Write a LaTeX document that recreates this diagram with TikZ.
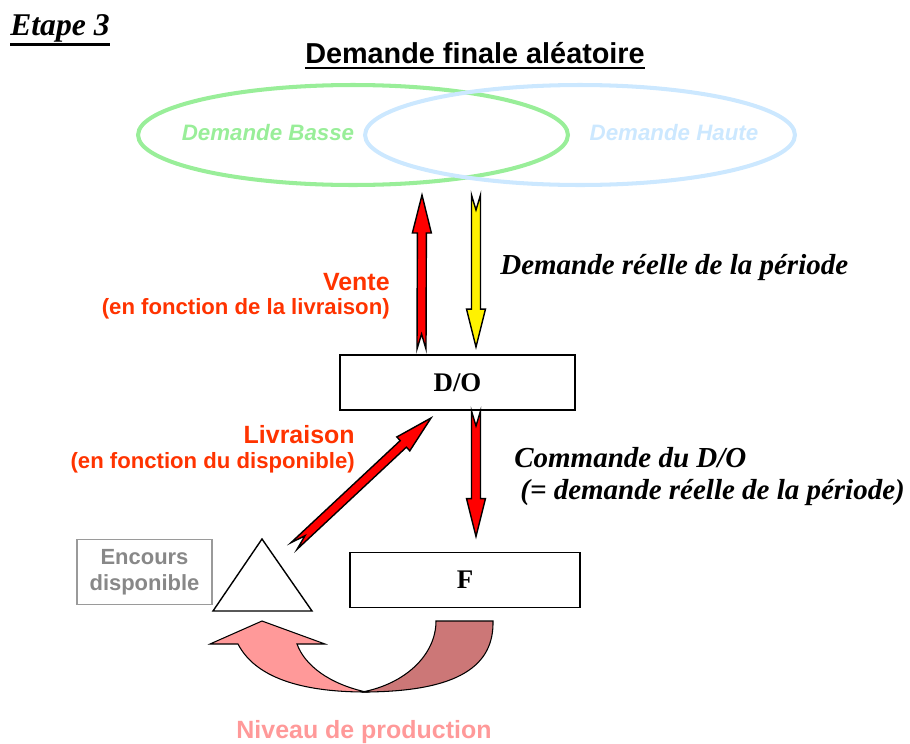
\documentclass[tikz,border=0pt]{standalone}
\usepackage{fontspec}
\setmainfont{Liberation Serif}
\setsansfont{Liberation Sans}
\usetikzlibrary{calc,positioning,shapes.geometric}

\definecolor{basse}{RGB}{153,238,153}
\definecolor{haute}{RGB}{204,232,255}
\definecolor{rougeorange}{RGB}{255,51,0}
\definecolor{encours}{RGB}{136,136,136}
\definecolor{prodclair}{RGB}{255,153,153}
\definecolor{prodfonce}{RGB}{204,119,119}

% grosse fleche a queue entaillee : couleur, queue, tete
\newcommand{\fatarrow}[3]{%
  \coordinate (hb) at ($(#3)!0.76cm!(#2)$);
  \coordinate (nt) at ($(#2)!0.3cm!(#3)$);
  \filldraw[fill=#1, draw=black, line width=0.8pt, line join=miter]
    ($(#2)!0.09cm!90:(#3)$) -- ($(hb)!0.09cm!90:(#3)$) -- ($(hb)!0.19cm!90:(#3)$)
    -- (#3) -- ($(hb)!0.19cm!-90:(#3)$) -- ($(hb)!0.09cm!-90:(#3)$)
    -- ($(#2)!0.09cm!-90:(#3)$) -- (nt) -- cycle;
}

\begin{document}
\begin{tikzpicture}[x=0.02cm, y=-0.02cm,
    etape/.style={inner sep=0, font=\fontsize{18}{22}\selectfont\bfseries\itshape},
    titre/.style={inner sep=0, font=\sffamily\bfseries\fontsize{16.4}{20}\selectfont},
    souligne/.style={line width=1.6pt},
    demande/.style={inner sep=0, font=\sffamily\bfseries\itshape\fontsize{12.7}{15}\selectfont},
    serifit/.style={inner sep=0, font=\fontsize{16.5}{20}\selectfont\bfseries\itshape},
    etiq/.style={inner sep=0, text=rougeorange, font=\sffamily\bfseries\fontsize{14.2}{17}\selectfont},
    sousetiq/.style={inner sep=0, text=rougeorange, font=\sffamily\bfseries\fontsize{12.6}{15}\selectfont},
    boite/.style={draw, line width=1.1pt, font=\bfseries\fontsize{15.3}{18}\selectfont},
    ovale/.style={ellipse, line width=2.3pt, minimum width=8.6cm, minimum height=2cm}]
  \useasboundingbox (0,0) rectangle (910,744);

  \node[etape, anchor=west] (etape) at (10,28) {Etape 3};
  \draw[souligne] ($(etape.base west)+(0,9.5)$) -- ($(etape.base east)+(0,9.5)$);
  \node[titre] (titre) at (475,53) {Demande finale aléatoire};
  \draw[souligne, line width=1.4pt] ($(titre.base west)+(0,4.5)$) -- ($(titre.base east)+(0,4.5)$);

  % demande aleatoire
  \node[ovale, draw=basse] (basse) at (353,135) {};
  \node[ovale, draw=haute] (haute) at (580,135) {};
  \node[demande, text=basse] (txtbasse) at (268,133) {Demande Basse};
  \node[demande, text=haute] (txthaute) at (674,133) {Demande Haute};

  % acteurs
  \node[boite, minimum width=4.7cm, minimum height=1.1cm] (do) at (457.5,382.5) {D/O};
  \node[boite, minimum width=4.6cm, minimum height=1.1cm] (f) at (465,580) {F};
  \node[draw=encours!85, line width=0.6pt, minimum width=2.7cm, minimum height=1.3cm,
        align=center, text=encours, inner sep=0,
        font=\sffamily\bfseries\fontsize{12.5}{15}\selectfont] (encours) at (144.5,572) {Encours\\disponible};
  \coordinate (sommet) at (262,539);
  \draw[line width=0.8pt, fill=white] (sommet) -- (312,611) -- (213,611) -- cycle;

  % flux
  \coordinate (venteQueue) at ($(do.north)+(-36,-5)$);
  \coordinate (venteTete) at (422,195);
  \fatarrow{red}{venteQueue}{venteTete}
  \coordinate (demQueue) at (476,195);
  \coordinate (demTete) at ($(do.north)+(18.5,-7)$);
  \fatarrow{yellow}{demQueue}{demTete}
  \coordinate (cmdQueue) at ($(do.south)+(18.5,0)$);
  \coordinate (cmdTete) at ($(f.north)+(11,-15)$);
  \fatarrow{red}{cmdQueue}{cmdTete}
  \coordinate (livQueue) at (294,546);
  \coordinate (livTete) at ($(do.south west)+(92,7)$);
  \fatarrow{red}{livQueue}{livTete}

  \node[etiq, anchor=east] (vente) at (390,282) {Vente};
  \node[sousetiq, anchor=east] (ventesous) at (390,309) {(en fonction de la livraison)};
  \node[serifit, anchor=west] (demreelle) at (500,268) {Demande réelle de la période};
  \node[etiq, anchor=east] (livraison) at (355,435) {Livraison};
  \node[sousetiq, anchor=east] (livsous) at (355,463) {(en fonction du disponible)};
  \node[serifit, anchor=west] (commande) at (514,458) {Commande du D/O};
  \node[serifit, anchor=west] (cmdsous) at (520,493) {(= demande réelle de la période)};

  % niveau de production
  \filldraw[fill=prodfonce, line width=0.6pt] (436,621) -- (493,621)
    .. controls (494,665) and (460,692) .. (362,692)
    .. controls (405,684) and (436,655) .. (436,621) -- cycle;
  \filldraw[fill=prodclair, line width=0.6pt] (238,644)
    .. controls (255,677) and (300,692) .. (366,692)
    .. controls (330,684) and (305,666) .. (297,644)
    -- (325,644) -- (262,621) -- (210,644) -- cycle;
  \node[etiq, text=prodclair] (production) at (364,732) {Niveau de production};
\end{tikzpicture}
\end{document}
